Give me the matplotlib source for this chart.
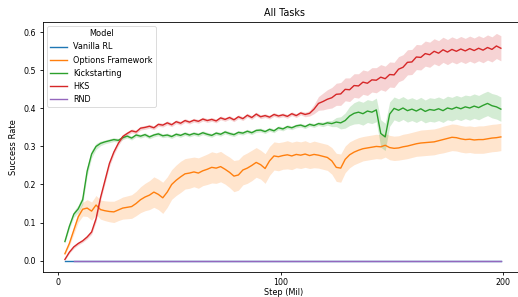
import matplotlib
matplotlib.use("Agg")
import matplotlib.pyplot as plt
import numpy as np

# Steps (Mil) at which every run was logged
STEPS = list(range(3, 200, 2))

MODELS = ["Vanilla RL", "Options Framework", "Kickstarting", "HKS", "RND"]
COLORS = ["#1f77b4", "#ff7f0e", "#2ca02c", "#d62728", "#9467bd"]

VANILLA_RL = [0.0] * len(STEPS)
RND_STEPS = STEPS[2:]
RND = [0.0] * len(RND_STEPS)

OPTIONS = [
    0.018, 0.045, 0.080, 0.115, 0.135, 0.138, 0.130, 0.146, 0.134, 0.131,
    0.129, 0.128, 0.133, 0.138, 0.140, 0.142, 0.150, 0.160, 0.167, 0.172,
    0.180, 0.174, 0.165, 0.180, 0.200, 0.211, 0.220, 0.228, 0.230, 0.233,
    0.230, 0.236, 0.240, 0.245, 0.243, 0.247, 0.240, 0.232, 0.222, 0.225,
    0.238, 0.243, 0.250, 0.258, 0.252, 0.242, 0.262, 0.275, 0.273, 0.276,
    0.278, 0.275, 0.279, 0.277, 0.280, 0.276, 0.279, 0.277, 0.274, 0.271,
    0.262, 0.245, 0.243, 0.266, 0.278, 0.285, 0.290, 0.294, 0.296, 0.298,
    0.300, 0.299, 0.303, 0.297, 0.295, 0.296, 0.299, 0.301, 0.304, 0.307,
    0.309, 0.310, 0.311, 0.312, 0.315, 0.318, 0.321, 0.324, 0.323, 0.320,
    0.318, 0.319, 0.317, 0.318, 0.318, 0.320, 0.322, 0.323, 0.325,
]
OPTIONS_SD = [
    0.003, 0.006, 0.010, 0.014, 0.018, 0.022, 0.024, 0.025, 0.025, 0.026,
    0.027, 0.028, 0.028, 0.029, 0.030, 0.031, 0.032, 0.034, 0.036, 0.038,
    0.040, 0.040, 0.041, 0.040, 0.039, 0.040, 0.041, 0.040, 0.040, 0.039,
    0.040, 0.039, 0.040, 0.041, 0.040, 0.040, 0.039, 0.040, 0.041, 0.040,
    0.039, 0.040, 0.040, 0.039, 0.038, 0.039, 0.038, 0.037, 0.037, 0.036,
    0.037, 0.036, 0.035, 0.035, 0.035, 0.034, 0.035, 0.034, 0.034, 0.034,
    0.035, 0.037, 0.037, 0.035, 0.034, 0.033, 0.033, 0.032, 0.032, 0.032,
    0.032, 0.032, 0.031, 0.032, 0.032, 0.032, 0.033, 0.033, 0.033, 0.033,
    0.034, 0.034, 0.034, 0.034, 0.034, 0.035, 0.035, 0.035, 0.035, 0.035,
    0.035, 0.035, 0.035, 0.036, 0.036, 0.036, 0.036, 0.036, 0.036,
]

KICKSTARTING = [
    0.050, 0.090, 0.122, 0.136, 0.160, 0.235, 0.280, 0.300, 0.308, 0.312,
    0.315, 0.318, 0.316, 0.323, 0.327, 0.322, 0.330, 0.327, 0.331, 0.325,
    0.330, 0.333, 0.328, 0.330, 0.326, 0.332, 0.329, 0.334, 0.330, 0.334,
    0.331, 0.336, 0.332, 0.329, 0.335, 0.332, 0.338, 0.334, 0.331, 0.337,
    0.335, 0.340, 0.336, 0.342, 0.343, 0.339, 0.345, 0.341, 0.349, 0.346,
    0.352, 0.349, 0.354, 0.356, 0.352, 0.358, 0.355, 0.360, 0.358, 0.362,
    0.360, 0.364, 0.362, 0.368, 0.380, 0.387, 0.390, 0.386, 0.393, 0.390,
    0.396, 0.334, 0.325, 0.385, 0.400, 0.395, 0.401, 0.394, 0.398, 0.393,
    0.399, 0.392, 0.397, 0.395, 0.399, 0.394, 0.401, 0.398, 0.403, 0.399,
    0.404, 0.401, 0.406, 0.402, 0.408, 0.413, 0.407, 0.404, 0.398,
]
KICKSTARTING_SD = [
    0.003, 0.006, 0.008, 0.010, 0.012, 0.012, 0.010, 0.008, 0.006, 0.005,
    0.005, 0.005, 0.005, 0.005, 0.005, 0.005, 0.005, 0.005, 0.005, 0.005,
    0.005, 0.005, 0.005, 0.005, 0.005, 0.005, 0.005, 0.005, 0.005, 0.005,
    0.005, 0.005, 0.005, 0.005, 0.005, 0.005, 0.005, 0.005, 0.005, 0.005,
    0.005, 0.005, 0.005, 0.005, 0.005, 0.005, 0.005, 0.005, 0.005, 0.005,
    0.005, 0.005, 0.005, 0.005, 0.005, 0.005, 0.005, 0.005, 0.006, 0.006,
    0.008, 0.012, 0.016, 0.020, 0.025, 0.028, 0.030, 0.030, 0.030, 0.030,
    0.031, 0.036, 0.036, 0.032, 0.030, 0.030, 0.030, 0.030, 0.030, 0.030,
    0.030, 0.030, 0.031, 0.031, 0.031, 0.031, 0.031, 0.031, 0.031, 0.031,
    0.031, 0.032, 0.032, 0.032, 0.032, 0.032, 0.032, 0.032, 0.032,
]

HKS = [
    0.003, 0.022, 0.036, 0.045, 0.052, 0.062, 0.075, 0.110, 0.165, 0.210,
    0.255, 0.285, 0.308, 0.326, 0.334, 0.341, 0.338, 0.348, 0.350, 0.353,
    0.349, 0.358, 0.356, 0.362, 0.357, 0.365, 0.361, 0.368, 0.364, 0.369,
    0.366, 0.372, 0.368, 0.371, 0.367, 0.375, 0.371, 0.376, 0.370, 0.378,
    0.373, 0.382, 0.376, 0.385, 0.378, 0.381, 0.377, 0.384, 0.380, 0.383,
    0.379, 0.386, 0.381, 0.388, 0.384, 0.387, 0.398, 0.413, 0.418, 0.424,
    0.428, 0.437, 0.438, 0.450, 0.449, 0.460, 0.459, 0.469, 0.466, 0.475,
    0.474, 0.482, 0.478, 0.489, 0.488, 0.503, 0.508, 0.521, 0.522, 0.535,
    0.534, 0.544, 0.541, 0.550, 0.545, 0.554, 0.548, 0.555, 0.550, 0.556,
    0.551, 0.557, 0.552, 0.558, 0.553, 0.560, 0.555, 0.564, 0.558,
]
HKS_SD = [
    0.002, 0.003, 0.004, 0.004, 0.004, 0.005, 0.006, 0.008, 0.008, 0.008,
    0.008, 0.007, 0.006, 0.006, 0.005, 0.005, 0.005, 0.005, 0.005, 0.005,
    0.005, 0.005, 0.005, 0.005, 0.005, 0.005, 0.005, 0.005, 0.005, 0.005,
    0.005, 0.005, 0.005, 0.005, 0.005, 0.005, 0.005, 0.005, 0.005, 0.005,
    0.005, 0.005, 0.005, 0.005, 0.005, 0.005, 0.005, 0.005, 0.005, 0.005,
    0.005, 0.005, 0.005, 0.005, 0.006, 0.007, 0.012, 0.018, 0.022, 0.025,
    0.027, 0.029, 0.030, 0.030, 0.031, 0.031, 0.032, 0.032, 0.032, 0.032,
    0.033, 0.033, 0.033, 0.033, 0.033, 0.033, 0.033, 0.033, 0.033, 0.033,
    0.033, 0.033, 0.033, 0.033, 0.033, 0.033, 0.033, 0.033, 0.033, 0.033,
    0.033, 0.033, 0.033, 0.033, 0.033, 0.033, 0.033, 0.033, 0.033,
]

SERIES = [
    (STEPS, VANILLA_RL, None),
    (STEPS, OPTIONS, OPTIONS_SD),
    (STEPS, KICKSTARTING, KICKSTARTING_SD),
    (STEPS, HKS, HKS_SD),
    (RND_STEPS, RND, None),
]

fig = plt.figure(figsize=(5.18, 2.97), dpi=100)
ax = fig.add_axes([43 / 518, 25 / 297, 482 / 518, 250 / 297])

for name, color, (x, y, sd) in zip(MODELS, COLORS, SERIES):
    x = np.asarray(x)
    y = np.asarray(y)
    if sd is not None:
        sd = np.asarray(sd)
        ax.fill_between(x, y - sd, y + sd, color=color, alpha=0.2, linewidth=0)
    ax.plot(x, y, color=color, linewidth=1.0, label=name)

ax.set_xlim(-6.85, 209.85)
ax.set_ylim(-0.03, 0.627)
ax.set_xticks([0, 100, 200])
ax.set_yticks([0.0, 0.1, 0.2, 0.3, 0.4, 0.5, 0.6])
ax.tick_params(labelsize=5.7, length=2.4, width=0.6, pad=2.6)
ax.tick_params(axis="x", pad=2.0)
for spine in ax.spines.values():
    spine.set_linewidth(0.6)

ax.set_title("All Tasks", fontsize=6.9, pad=4)
ax.set_xlabel("Step (Mil)", fontsize=5.9, labelpad=0.8)
ax.set_ylabel("Success Rate", fontsize=6.0, labelpad=4)

leg = ax.legend(title="Model", loc="upper left", fontsize=5.9,
                title_fontsize=5.9, frameon=True)
leg.get_frame().set_linewidth(0.6)

fig.savefig("out.png", dpi=100)
